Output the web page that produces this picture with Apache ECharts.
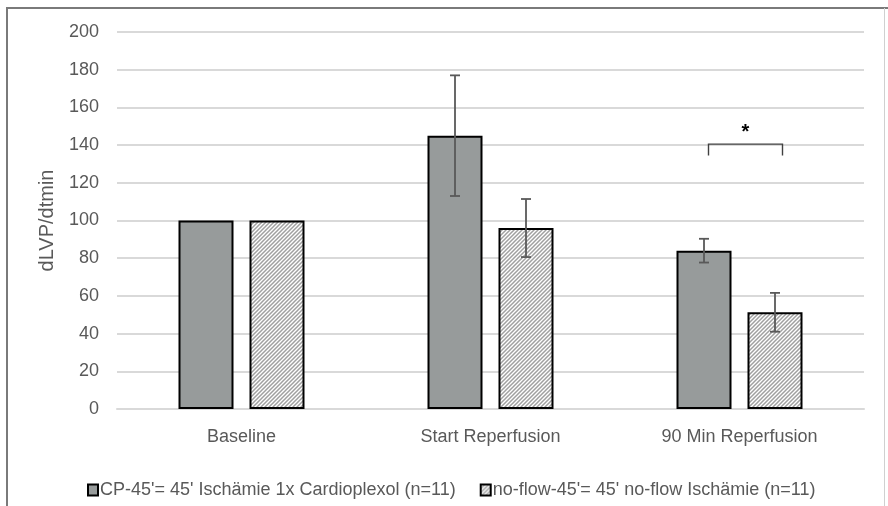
<!DOCTYPE html>
<html><head><meta charset="utf-8">
<script src="https://cdn.jsdelivr.net/npm/echarts@6/dist/echarts.min.js"></script>
<style>html,body{margin:0;padding:0;background:#fff}#c{width:888px;height:506px}</style>
</head><body><div id="c"></div>
<script>
const categories = ['Baseline', 'Start Reperfusion', '90 Min Reperfusion'];
const seriesNames = ["CP-45'= 45' Ischämie 1x Cardioplexol (n=11)", "no-flow-45'= 45' no-flow Ischämie (n=11)"];
const cpValues = [100, 145, 84];
const cpErrors = [0, 32, 6.3];
const nfValues = [100, 96, 51.3];
const nfErrors = [0, 15.4, 10.3];
const sigCategory = 2;
const sigLevel = 140.5;
const sigLabel = '*';

const FONT = '"Liberation Sans", Arial, sans-serif';
const TXT = '#595959';

function hatch() {
  const c = document.createElement('canvas');
  c.width = 4; c.height = 4;
  const g = c.getContext('2d');
  g.fillStyle = '#ffffff'; g.fillRect(0, 0, 4, 4);
  g.strokeStyle = '#a0a0a0'; g.lineWidth = 1.5;
  g.beginPath();
  g.moveTo(-1, 5); g.lineTo(5, -1);
  g.moveTo(-1, 1); g.lineTo(1, -1);
  g.moveTo(3, 5); g.lineTo(5, 3);
  g.stroke();
  return c;
}
const pattern = { image: hatch(), repeat: 'repeat' };

const chart = echarts.init(document.getElementById('c'));
const BAR_W = 55, GAP = 16;
const off = (BAR_W + GAP) / 2;

function errRender(sign) {
  return function (params, api) {
    const i = api.value(0);
    const v = api.value(1);
    const e = api.value(2);
    if (!e) return;
    const c = api.coord([i, v]);
    const x = c[0] + sign * off;
    const yt = api.coord([i, v + e])[1];
    const yb = api.coord([i, v - e])[1];
    const st = { stroke: '#595959', lineWidth: 1.8 };
    return { type: 'group', children: [
      { type: 'line', shape: { x1: x, y1: yt, x2: x, y2: yb }, style: st },
      { type: 'line', shape: { x1: x - 5, y1: yt, x2: x + 5, y2: yt }, style: st },
      { type: 'line', shape: { x1: x - 5, y1: yb, x2: x + 5, y2: yb }, style: st }
    ]};
  };
}

chart.setOption({
  animation: false,
  textStyle: { fontFamily: FONT },
  grid: { left: 117, right: 24, top: 32, bottom: 97, containLabel: false },
  graphic: [
    { type: 'line', shape: { x1: 7, y1: 8, x2: 888, y2: 8 }, style: { stroke: '#7a7a7a', lineWidth: 2 } },
    { type: 'line', shape: { x1: 7, y1: 7, x2: 7, y2: 506 }, style: { stroke: '#7a7a7a', lineWidth: 2 } },
    { type: 'line', shape: { x1: 884.5, y1: 8, x2: 884.5, y2: 506 }, style: { stroke: '#d0d0d0', lineWidth: 1 } }
  ],
  legend: {
    left: 82, top: 476,
    itemWidth: 10, itemHeight: 11, itemGap: 24,
    icon: 'rect',
    textStyle: { color: TXT, fontSize: 18, fontFamily: FONT, padding: [0, 0, 0, -3] },
    data: seriesNames
  },
  xAxis: {
    type: 'category', data: categories,
    axisLine: { lineStyle: { color: '#d9d9d9', width: 2 } },
    axisTick: { show: false },
    axisLabel: { color: TXT, fontSize: 18, margin: 19, fontFamily: FONT }
  },
  yAxis: {
    type: 'value', min: 0, max: 200, interval: 20,
    name: 'dLVP/dtmin', nameLocation: 'middle', nameGap: 60,
    nameTextStyle: { color: TXT, fontSize: 20, fontFamily: FONT },
    axisLine: { show: false }, axisTick: { show: false },
    axisLabel: { color: TXT, fontSize: 18, margin: 18, fontFamily: FONT },
    splitLine: { lineStyle: { color: '#d9d9d9', width: 2 } }
  },
  series: [
    { name: seriesNames[0], type: 'bar', data: cpValues, barWidth: BAR_W, barGap: (GAP / BAR_W * 100) + '%',
      itemStyle: { color: '#979b9b', borderColor: '#000', borderWidth: 2 } },
    { name: seriesNames[1], type: 'bar', data: nfValues, barWidth: BAR_W,
      itemStyle: { color: pattern, borderColor: '#000', borderWidth: 2 } },
    { type: 'custom', renderItem: errRender(-1), data: cpValues.map((v, i) => [i, v, cpErrors[i]]), z: 5, silent: true },
    { type: 'custom', renderItem: errRender(1), data: nfValues.map((v, i) => [i, v, nfErrors[i]]), z: 5, silent: true },
    { type: 'custom', z: 6, silent: true, data: [[sigCategory, sigLevel]],
      renderItem: function (params, api) {
        const c = api.coord([api.value(0), api.value(1)]);
        const xl = c[0] - 31, xr = c[0] + 43;
        const y = c[1];
        const yd = api.coord([api.value(0), api.value(1) - 6])[1];
        return { type: 'group', children: [
          { type: 'polyline', shape: { points: [[xl, yd], [xl, y], [xr, y], [xr, yd]] }, style: { stroke: '#404040', lineWidth: 1.4, fill: null } },
          { type: 'text', style: { text: sigLabel, x: (xl + xr) / 2, y: y - 12, textAlign: 'center', textVerticalAlign: 'middle', font: 'bold 20px ' + FONT, fill: '#000' } }
        ]};
      } }
  ]
});
</script></body></html>
